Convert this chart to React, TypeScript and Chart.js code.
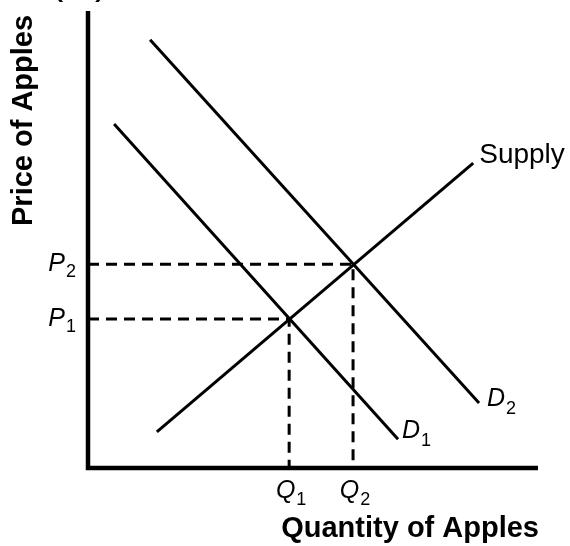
import React, { useEffect, useRef } from "react";
import { Chart, registerables } from "chart.js";

Chart.register(...registerables);

// Axis range (quantity, price)
const axisQ = [0, 0, 10];
const axisP = [10, 0, 0];

// Supply curve endpoints
const supplyQ = [1.53, 8.56];
const supplyP = [0.79, 6.67];

// Demand D1 endpoints
const d1Q = [0.58, 6.89];
const d1P = [7.53, 0.63];

// Demand D2 endpoints
const d2Q = [1.38, 8.69];
const d2P = [9.37, 1.42];

// Equilibria (Q1,P1) and (Q2,P2)
const eqQ = [4.47, 5.89];
const eqP = [3.26, 4.46];
const eqSubs = ["1", "2"];

const curveNames = ["Supply", "D", "D"];
const curveSubs = ["", "1", "2"];

const xTitle = "Quantity of Apples";
const yTitle = "Price of Apples";

const FONT = '"Liberation Sans", Arial, Helvetica, sans-serif';

const pts = (qs: number[], ps: number[]) => qs.map((q, i) => ({ x: q, y: ps[i] }));

const labelPlugin = {
  id: "econLabels",
  afterDraw(chart: any) {
    const ctx = chart.ctx as CanvasRenderingContext2D;
    const xs = chart.scales.x;
    const ys = chart.scales.y;
    const area = chart.chartArea;
    ctx.save();
    ctx.fillStyle = "#000";
    ctx.textBaseline = "alphabetic";

    const subLabel = (main: string, sub: string, x: number, y: number, align: "left" | "right" | "center", subDy: number) => {
      ctx.font = `italic 25px ${FONT}`;
      const wm = ctx.measureText(main).width;
      ctx.font = `18px ${FONT}`;
      const ws = ctx.measureText(sub).width;
      const total = wm + 1 + ws;
      let left = x;
      if (align === "right") left = x - total;
      if (align === "center") left = x - total / 2;
      ctx.textAlign = "left";
      ctx.font = `italic 25px ${FONT}`;
      ctx.fillText(main, left, y);
      ctx.font = `18px ${FONT}`;
      ctx.fillText(sub, left + wm + 1, y + subDy);
    };

    // Price labels
    eqP.forEach((p, i) => {
      const py = ys.getPixelForValue(p);
      subLabel("P", eqSubs[i], area.left - 12, py + 7, "right", 6);
    });
    // Quantity labels
    eqQ.forEach((q, i) => {
      const px = xs.getPixelForValue(q);
      subLabel("Q", eqSubs[i], px + 2, area.bottom + 30, "center", 7);
    });

    // Supply label
    {
      const px = xs.getPixelForValue(supplyQ[1]);
      const py = ys.getPixelForValue(supplyP[1]);
      ctx.font = `28px ${FONT}`;
      ctx.textAlign = "left";
      ctx.fillText(curveNames[0], px + 6, py);
    }
    // D1 label
    {
      const px = xs.getPixelForValue(d1Q[1]);
      const py = ys.getPixelForValue(d1P[1]);
      subLabel(curveNames[1], curveSubs[1], px + 4, py - 1, "left", 8);
    }
    // D2 label
    {
      const px = xs.getPixelForValue(d2Q[1]);
      const py = ys.getPixelForValue(d2P[1]);
      subLabel(curveNames[2], curveSubs[2], px + 8, py + 3, "left", 8);
    }

    // Axis titles
    ctx.font = `bold 29px ${FONT}`;
    ctx.textAlign = "right";
    ctx.fillText(xTitle, area.right + 1, area.bottom + 69);

    ctx.save();
    ctx.translate(32, area.top + 215);
    ctx.rotate(-Math.PI / 2);
    ctx.textAlign = "left";
    ctx.fillText(yTitle, 0, 0);
    ctx.restore();

    // cropped panel mark (only the bottoms of the brackets show)
    ctx.font = `40px ${FONT}`;
    ctx.textAlign = "left";
    ctx.fillText("(", 50, -6);
    ctx.fillText(")", 95, -6);

    ctx.restore();
  },
};

export default function App() {
  const ref = useRef<HTMLCanvasElement | null>(null);
  useEffect(() => {
    if (!ref.current) return;
    const line = (data: any[], width: number, dash: number[] = []) => ({
      data,
      borderColor: "#000",
      backgroundColor: "#000",
      borderWidth: width,
      borderDash: dash,
      pointRadius: 0,
      fill: false,
      tension: 0,
      clip: false,
      borderCapStyle: "butt",
      borderJoinStyle: "miter",
    });
    const chart = new Chart(ref.current, {
      type: "line",
      data: {
        datasets: [
          line([{ x: 0, y: eqP[0] }, { x: eqQ[0], y: eqP[0] }, { x: eqQ[0], y: 0 }], 3, [11, 7]),
          line([{ x: 0, y: eqP[1] }, { x: eqQ[1], y: eqP[1] }, { x: eqQ[1], y: 0 }], 3, [11, 7]),
          line(pts(supplyQ, supplyP), 3),
          line(pts(d1Q, d1P), 3),
          line(pts(d2Q, d2P), 3),
          line(pts(axisQ, axisP), 4.5),
        ] as any,
      },
      options: {
        responsive: false,
        animation: false,
        parsing: true,
        layout: { padding: { left: 88, right: 32, top: 11, bottom: 78 } },
        scales: {
          x: { type: "linear", min: 0, max: 10, display: false },
          y: { type: "linear", min: 0, max: 10, display: false },
        },
        plugins: {
          legend: { display: false },
          tooltip: { enabled: false },
          title: { display: false },
        },
        events: [],
      } as any,
      plugins: [labelPlugin],
    });
    return () => chart.destroy();
  }, []);
  return (
    <div style={{ position: "fixed", left: 0, top: 0, width: 570, height: 546, background: "#fff" }}>
      <canvas ref={ref} width={570} height={546} style={{ display: "block", width: 570, height: 546 }} />
    </div>
  );
}
